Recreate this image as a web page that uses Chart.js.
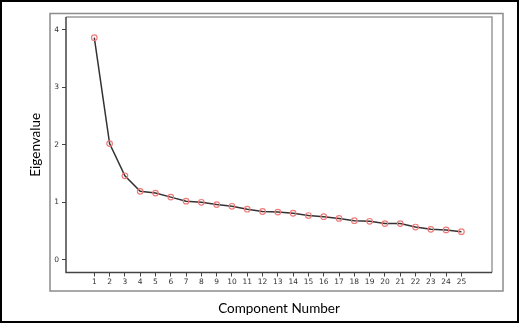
<!DOCTYPE html>
<html>
<head>
<meta charset="utf-8">
<script src="https://cdn.jsdelivr.net/npm/chart.js@4/dist/chart.umd.min.js"></script>
<style>
html,body{margin:0;padding:0;background:#fff;}
#wrap{position:relative;width:519px;height:323px;}
canvas{display:block;}
</style>
</head>
<body>
<div id="wrap"><canvas id="c" width="519" height="323"></canvas></div>
<script>
const components = [1,2,3,4,5,6,7,8,9,10,11,12,13,14,15,16,17,18,19,20,21,22,23,24,25];
const eigenvalues = [3.86,2.02,1.46,1.19,1.16,1.09,1.02,1.00,0.96,0.93,0.88,0.84,0.83,0.81,0.77,0.75,0.72,0.68,0.67,0.63,0.63,0.57,0.53,0.52,0.49];
const yTicks = [0,1,2,3,4];
const xTitle = 'Component Number';
const yTitle = 'Eigenvalue';

const framePlugin = {
  id: 'frames',
  beforeDraw(chart) {
    const {ctx, chartArea: a} = chart;
    ctx.save();
    ctx.fillStyle = '#fff';
    ctx.fillRect(0, 0, chart.width, chart.height);
    ctx.strokeStyle = '#000';
    ctx.lineWidth = 2;
    ctx.strokeRect(1, 1, chart.width - 2, chart.height - 2);
    ctx.strokeStyle = '#8c8c8c';
    ctx.lineWidth = 1.5;
    ctx.strokeRect(a.left - 16, a.top - 3.5, (a.right + 11) - (a.left - 16), (a.bottom + 18.5) - (a.top - 3.5));
    ctx.restore();
  },
  beforeDatasetsDraw(chart) {
    const {ctx, chartArea: a} = chart;
    ctx.save();
    ctx.lineWidth = 1.5;
    ctx.strokeStyle = '#9a9a9a';
    ctx.beginPath();
    ctx.moveTo(a.left, a.top);
    ctx.lineTo(a.right, a.top);
    ctx.lineTo(a.right, a.bottom);
    ctx.stroke();
    ctx.strokeStyle = '#444';
    ctx.beginPath();
    ctx.moveTo(a.left, a.top);
    ctx.lineTo(a.left, a.bottom);
    ctx.lineTo(a.right, a.bottom);
    ctx.stroke();
    ctx.restore();
  }
};

new Chart(document.getElementById('c'), {
  type: 'line',
  data: {
    datasets: [{
      data: components.map((c, i) => ({x: c, y: eigenvalues[i]})),
      borderColor: '#333',
      borderWidth: 1.5,
      pointRadius: 2.8,
      pointBorderWidth: 1.2,
      pointBorderColor: '#f07a7a',
      pointBackgroundColor: 'rgba(255,255,255,0)',
      tension: 0
    }]
  },
  options: {
    responsive: false,
    animation: false,
    devicePixelRatio: 1,
    layout: {padding: {top: 17, right: 27, left: 0, bottom: 0}},
    plugins: {legend: {display: false}, tooltip: {enabled: false}},
    scales: {
      x: {
        type: 'linear',
        min: -0.85,
        max: 27,
        afterFit(s) { s.height = 50.5; },
        afterBuildTicks(s) { s.ticks = components.map(v => ({value: v})); },
        border: {display: false},
        grid: {drawOnChartArea: false, drawTicks: true, tickLength: 4, color: '#444', lineWidth: 1},
        ticks: {
          autoSkip: false, maxRotation: 0, padding: 1,
          color: '#333',
          font: {family: 'DejaVu Sans', size: 7.5}
        },
        title: {
          display: true, text: xTitle, color: '#000',
          font: {family: 'Lato', size: 13.5},
          padding: {top: 0, bottom: 6.6}
        }
      },
      y: {
        type: 'linear',
        min: -0.22,
        max: 4.22,
        afterFit(s) { s.width = 66; },
        afterBuildTicks(s) { s.ticks = yTicks.map(v => ({value: v})); },
        border: {display: false},
        grid: {drawOnChartArea: false, drawTicks: true, tickLength: 4, color: '#444', lineWidth: 1},
        ticks: {
          padding: 3,
          color: '#333',
          font: {family: 'DejaVu Sans', size: 7.5}
        },
        title: {
          display: true, text: yTitle, color: '#000',
          font: {family: 'Lato', size: 13.5},
          padding: {top: 27.6, bottom: 0}
        }
      }
    }
  },
  plugins: [framePlugin]
});
</script>
</body>
</html>
